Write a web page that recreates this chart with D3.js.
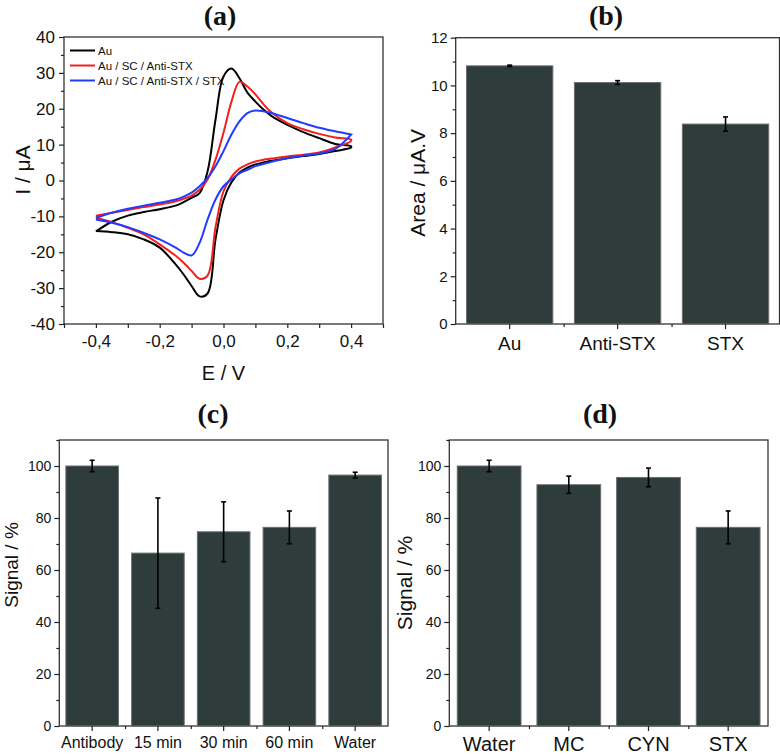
<!DOCTYPE html>
<html>
<head>
<meta charset="utf-8">
<script src="https://d3js.org/d3.v7.min.js"></script>
<title>STX immunosensor - CV and signal charts</title>
<style>
  body { margin: 0; background: #fff; }
  svg text { font-family: "Liberation Sans", Arial, sans-serif; fill: #111; }
  .ptitle { font-family: "Liberation Serif", "Times New Roman", serif; font-weight: bold; }
  .axis path, .axis line { stroke: #222; stroke-width: 1.2; }
  .axis .domain { display: none; }
</style>
</head>
<body>
<svg id="fig" width="780" height="755"></svg>
<script>
// (a) cyclic voltammograms, potential in V, current in uA
var potential = [-0.4, -0.35, -0.3, -0.25, -0.2, -0.15, -0.125, -0.1, -0.075, -0.05, -0.025, 0,
                 0.025, 0.05, 0.075, 0.1, 0.125, 0.15, 0.2, 0.25, 0.3, 0.35, 0.4];
var cvNames = ["Au", "Au / SC / Anti-STX", "Au / SC / Anti-STX / STX"];
var cvColors = ["#000000", "#f0201c", "#1f3cff"];

// forward scan (-0.4 -> 0.4)
var auFwd   = [-14.2, -11.5, -9.8, -8.8, -8.0, -7.0, -6.0, -4.8, -3.5, 2.5, 17, 29, 31.2, 28.5, 24.5, 22, 19.8, 18, 15.5, 13.5, 11.8, 10.2, 9.5];
var scFwd   = [-9.8, -9.0, -8.2, -7.4, -6.7, -5.8, -5.1, -4.2, -2.6, 0.3, 5.8, 13.3, 22, 27.5, 26.2, 24, 21.3, 19, 16, 14.3, 13, 12, 11.4];
var stxFwd  = [-10.4, -9.0, -7.9, -7.0, -6.2, -5.3, -4.5, -3.4, -1.6, 0.7, 4.0, 8.2, 12.8, 16.5, 18.8, 19.5, 19.3, 18.8, 17.4, 16, 14.7, 13.7, 12.8];
// reverse scan (0.4 -> -0.4)
var auRev   = [9.2, 8.2, 7.4, 6.8, 6.2, 5.5, 5.0, 4.5, 3.6, 2.2, -0.5, -5.5, -16.4, -31.5, -32.3, -29.4, -26.2, -23.4, -18.7, -16.4, -15, -14.4, -14.1];
var scRev   = [11.0, 9.2, 7.8, 7.2, 6.7, 6.1, 5.8, 5.3, 4.5, 3.3, 1.0, -3.0, -13, -26.5, -27.4, -25.2, -22.9, -21, -17.8, -15, -13.2, -11.6, -10.4];
var stxRev  = [12.8, 8.8, 7.5, 6.9, 6.3, 5.2, 4.6, 4.0, 3.0, 2.0, 0.3, -1.6, -5.3, -10.9, -17.4, -20.9, -20.1, -18.7, -16.4, -14.6, -13, -11.8, -10.9];

// (b) peak area
var areaCats = ["Au", "Anti-STX", "STX"];
var areaVals = [10.82, 10.12, 8.38];
var areaErr  = [0.03, 0.08, 0.3];

// (c) incubation time
var timeCats = ["Antibody", "15 min", "30 min", "60 min", "Water"];
var timeVals = [100, 66.5, 74.7, 76.4, 96.5];
var timeErr  = [2.2, 21.2, 11.5, 6.3, 1.1];

// (d) selectivity
var selCats = ["Water", "MC", "CYN", "STX"];
var selVals = [100, 92.8, 95.6, 76.4];
var selErr  = [2.2, 3.3, 3.6, 6.3];

var svg = d3.select("#fig");
var comma = function(f) { return function(d) { return d3.format(f)(d).replace(".", ",").replace("\u2212", "-"); }; };

function frame(l, t, r, b) {
  svg.append("rect").attr("x", l).attr("y", t).attr("width", r - l).attr("height", b - t)
     .attr("fill", "none").attr("stroke", "#333").attr("stroke-width", 1.3);
}

function title(txt, x, y) {
  svg.append("text").attr("class", "ptitle").attr("x", x).attr("y", y)
     .attr("text-anchor", "middle").attr("font-size", 28).text(txt);
}

function yTitle(txt, x, y, size) {
  svg.append("text").attr("transform", "translate(" + x + "," + y + ") rotate(-90)")
     .attr("text-anchor", "middle").attr("font-size", size).text(txt);
}

// ---------- panel (a) ----------
(function() {
  var L = 64, R = 383, T = 37, B = 324;
  var x = d3.scaleLinear().domain([-0.5, 0.5]).range([L, R]);
  var y = d3.scaleLinear().domain([-40, 40]).range([B, T]);
  frame(L, T, R, B);

  var gx = svg.append("g").attr("class", "axis").attr("transform", "translate(0," + B + ")");
  gx.call(d3.axisBottom(x).tickValues([-0.5, -0.3, -0.1, 0.1, 0.3, 0.5]).tickSize(4).tickFormat(""));
  svg.append("g").attr("class", "axis").attr("transform", "translate(0," + B + ")")
     .call(d3.axisBottom(x).tickValues([-0.4, -0.2, 0, 0.2, 0.4]).tickSize(4).tickPadding(7).tickFormat(comma(".1f")))
     .selectAll("text").attr("font-size", 17);

  svg.append("g").attr("class", "axis").attr("transform", "translate(" + L + ",0)")
     .call(d3.axisLeft(y).tickValues(d3.range(-35, 40, 10)).tickSize(3).tickFormat(""));
  svg.append("g").attr("class", "axis").attr("transform", "translate(" + L + ",0)")
     .call(d3.axisLeft(y).tickValues(d3.range(-40, 41, 10)).tickSize(5).tickPadding(4).tickFormat(comma("d")))
     .selectAll("text").attr("font-size", 17);

  var line = d3.line().x(function(d) { return x(d[0]); }).y(function(d) { return y(d[1]); })
               .curve(d3.curveCatmullRom.alpha(0.5));
  var revPot = potential.slice().reverse();
  var loops = [[auFwd, auRev], [scFwd, scRev], [stxFwd, stxRev]];
  loops.forEach(function(s, i) {
    var pts = potential.map(function(e, k) { return [e, s[0][k]]; })
      .concat(revPot.map(function(e, k) { return [e, s[1][k]]; }));
    svg.append("path").attr("d", line(pts)).attr("fill", "none")
       .attr("stroke", cvColors[i]).attr("stroke-width", 2);
  });

  // legend
  cvNames.forEach(function(n, i) {
    var ly = 50.5 + i * 15;
    svg.append("line").attr("x1", 70).attr("x2", 95).attr("y1", ly).attr("y2", ly)
       .attr("stroke", cvColors[i]).attr("stroke-width", 2);
    svg.append("text").attr("x", 98).attr("y", ly + 4).attr("font-size", 11.5).text(n);
  });

  title("(a)", 220, 25);
  svg.append("text").attr("x", (L + R) / 2).attr("y", 380).attr("text-anchor", "middle")
     .attr("font-size", 20).text("E / V");
  yTitle("I / \u03BCA", 30, 170, 21);
})();

// ---------- bar panels ----------
function barPanel(o) {
  var x = d3.scaleBand().domain(o.cats).range([o.L, o.R]).paddingInner(0.2).paddingOuter(0.1);
  var xl = d3.scaleLinear().domain([0, o.cats.length]).range([o.L, o.R]);
  var y = d3.scaleLinear().domain([0, o.ymax]).range([o.B, o.T]);
  frame(o.L, o.T, o.R, o.B);

  svg.append("g").selectAll("rect").data(o.vals).enter().append("rect")
     .attr("x", function(d, i) { return x(o.cats[i]); })
     .attr("y", function(d) { return y(d); })
     .attr("width", x.bandwidth())
     .attr("height", function(d) { return o.B - y(d); })
     .attr("fill", "#2e3c3c").attr("stroke", "#6a6f6f").attr("stroke-width", 1);

  var eb = svg.append("g").attr("stroke", "#000").attr("stroke-width", 1.6);
  o.vals.forEach(function(v, i) {
    var cx = x(o.cats[i]) + x.bandwidth() / 2;
    eb.append("line").attr("x1", cx).attr("x2", cx).attr("y1", y(v - o.err[i])).attr("y2", y(v + o.err[i]));
    [v - o.err[i], v + o.err[i]].forEach(function(e) {
      eb.append("line").attr("x1", cx - 2.5).attr("x2", cx + 2.5).attr("y1", y(e)).attr("y2", y(e));
    });
  });

  svg.append("g").attr("class", "axis").attr("transform", "translate(0," + o.B + ")")
     .call(d3.axisBottom(xl).tickValues(d3.range(1, o.cats.length)).tickSize(3).tickFormat(""));
  svg.append("g").attr("class", "axis").attr("transform", "translate(0," + o.B + ")")
     .call(d3.axisBottom(x).tickSize(5).tickSizeOuter(0).tickPadding(o.xPad))
     .selectAll("text").attr("font-size", o.xFont);

  svg.append("g").attr("class", "axis").attr("transform", "translate(" + o.L + ",0)")
     .call(d3.axisLeft(y).tickValues(o.yMinor).tickSize(3).tickFormat(""));
  svg.append("g").attr("class", "axis").attr("transform", "translate(" + o.L + ",0)")
     .call(d3.axisLeft(y).tickValues(o.yMajor).tickSize(5).tickPadding(3))
     .selectAll("text").attr("font-size", o.yFont);

  title(o.title, o.tx, o.ty);
  yTitle(o.ylabel, o.yx, (o.T + o.B) / 2 + o.yOff, o.yFontT);
}

barPanel({ cats: areaCats, vals: areaVals, err: areaErr, L: 455.7, R: 779.5, T: 37.7, B: 324, ymax: 12,
  yMajor: d3.range(0, 13, 2), yMinor: d3.range(1, 12, 2), xFont: 19, xPad: 8, yFont: 15,
  title: "(b)", tx: 606, ty: 25, ylabel: "Area / \u03BCA.V", yx: 425, yOff: 2, yFontT: 21 });

barPanel({ cats: timeCats, vals: timeVals, err: timeErr, L: 59.3, R: 388, T: 440, B: 726, ymax: 110,
  yMajor: d3.range(0, 101, 20), yMinor: d3.range(10, 111, 20), xFont: 16, xPad: 6, yFont: 14,
  title: "(c)", tx: 213, ty: 423, ylabel: "Signal / %", yx: 18, yOff: -18, yFontT: 19 });

barPanel({ cats: selCats, vals: selVals, err: selErr, L: 449.3, R: 768, T: 440, B: 726, ymax: 110,
  yMajor: d3.range(0, 101, 20), yMinor: d3.range(10, 111, 20), xFont: 20, xPad: 6, yFont: 14,
  title: "(d)", tx: 600, ty: 423, ylabel: "Signal / %", yx: 412, yOff: 0, yFontT: 21 });
</script>
</body>
</html>
